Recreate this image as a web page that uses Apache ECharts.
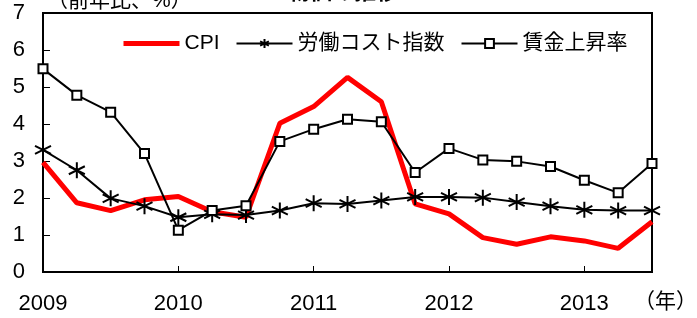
<!DOCTYPE html>
<html>
<head>
<meta charset="utf-8">
<script src="https://cdn.jsdelivr.net/npm/echarts@6/dist/echarts.min.js"></script>
<style>
html, body { margin: 0; padding: 0; background: #fff; }
#main { width: 697px; height: 318px; }
</style>
</head>
<body>
<div id="main"></div>
<script>
// 四半期 (2009Q1 - 2013Q3)
const quarters = [
  '2009Q1', '2009Q2', '2009Q3', '2009Q4',
  '2010Q1', '2010Q2', '2010Q3', '2010Q4',
  '2011Q1', '2011Q2', '2011Q3', '2011Q4',
  '2012Q1', '2012Q2', '2012Q3', '2012Q4',
  '2013Q1', '2013Q2', '2013Q3'
]
const cpi = [2.96, 1.87, 1.66, 1.95, 2.04, 1.63, 1.48, 4.02, 4.47, 5.26, 4.60, 1.84, 1.57, 0.93, 0.75, 0.95, 0.84, 0.64, 1.36]
const laborCost = [3.30, 2.75, 1.99, 1.78, 1.48, 1.56, 1.54, 1.66, 1.86, 1.84, 1.93, 2.03, 2.03, 2.01, 1.89, 1.78, 1.68, 1.66, 1.66]
const wageRise = [5.49, 4.78, 4.32, 3.20, 1.13, 1.66, 1.79, 3.53, 3.86, 4.13, 4.06, 2.69, 3.34, 3.03, 2.99, 2.85, 2.48, 2.14, 2.93]
const seriesNames = ['CPI', '労働コスト指数', '賃金上昇率']
const yTicks = [0, 1, 2, 3, 4, 5, 6, 7]

const font = '"Liberation Sans", "Noto Sans CJK JP", sans-serif'
const star = 'path://M0,-10L0,10M-8.7,-5L8.7,5M-8.7,5L8.7,-5'

const option = {
  animation: false,
  textStyle: { fontFamily: font, color: '#000' },
  grid: {
    left: 43, right: 45, top: 13, bottom: 46,
    show: true, borderColor: '#000', borderWidth: 2
  },
  legend: {
    left: 116, top: 28,
    itemWidth: 56, itemHeight: 11, itemGap: 16,
    data: [
      { name: seriesNames[0], itemStyle: { opacity: 0 }, lineStyle: { width: 5 } },
      { name: seriesNames[1], lineStyle: { width: 2 } },
      { name: seriesNames[2], lineStyle: { width: 2 } }
    ],
    textStyle: { fontSize: 21, color: '#000', fontFamily: font }
  },
  graphic: [
    { type: 'text', left: 47, top: -9, style: { text: '（前年比、%）', font: '21px ' + font, fill: '#000' } },
    { type: 'text', left: 288, top: -18, style: { text: '物価の推移', font: 'bold 22px ' + font, fill: '#000' } },
    { type: 'text', left: 634, top: 292, style: { text: '（年）', font: '21px ' + font, fill: '#000' } }
  ],
  xAxis: {
    type: 'category',
    data: quarters,
    boundaryGap: false,
    axisLine: { lineStyle: { color: '#000', width: 2 } },
    axisTick: {
      inside: true, length: 6,
      interval: (i) => i > 0 && i % 4 === 0,
      lineStyle: { color: '#000', width: 1 }
    },
    axisLabel: {
      interval: (i) => i % 4 === 0,
      formatter: (v) => v.slice(0, 4),
      fontSize: 22, color: '#000', margin: 21
    }
  },
  yAxis: {
    type: 'value',
    min: yTicks[0], max: yTicks[yTicks.length - 1], interval: 1,
    splitLine: { show: false },
    axisLine: { show: true, lineStyle: { color: '#000', width: 2 } },
    axisTick: { show: true, inside: true, length: 7, lineStyle: { color: '#000', width: 1 } },
    axisLabel: { fontSize: 22, color: '#000', margin: 18 }
  },
  series: [
    {
      name: seriesNames[0], type: 'line', data: cpi,
      symbol: 'none', color: '#ff0000',
      lineStyle: { color: '#ff0000', width: 5 }, z: 2
    },
    {
      name: seriesNames[1], type: 'line', data: laborCost,
      symbol: star, symbolSize: 16, color: '#000',
      itemStyle: { color: 'transparent', borderColor: '#000', borderWidth: 2 },
      lineStyle: { color: '#000', width: 2 }, z: 3
    },
    {
      name: seriesNames[2], type: 'line', data: wageRise,
      symbol: 'rect', symbolSize: 9, color: '#000',
      itemStyle: { color: '#fff', borderColor: '#000', borderWidth: 2 },
      lineStyle: { color: '#000', width: 2 }, z: 4
    }
  ]
}

const myChart = echarts.init(document.getElementById('main'))
myChart.setOption(option)
</script>
</body>
</html>
